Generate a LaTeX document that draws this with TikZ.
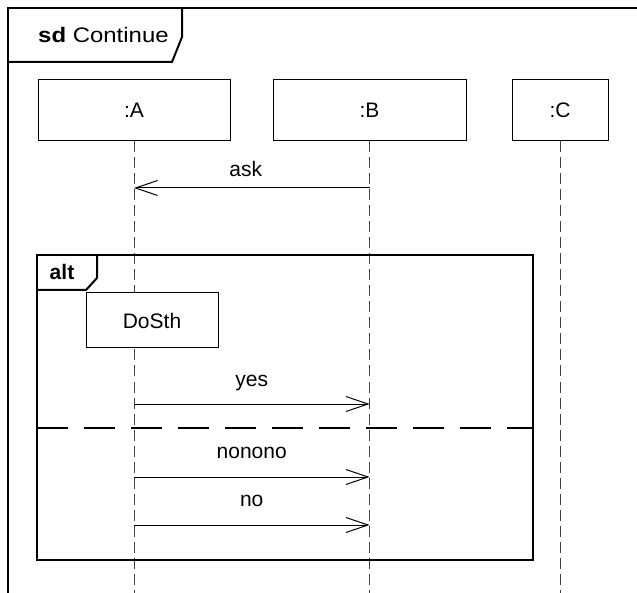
\documentclass[tikz,border=0pt]{standalone}
\usepackage{fontspec}
\setmainfont{Liberation Sans}
\usetikzlibrary{arrows.meta, positioning}

\begin{document}
\begin{tikzpicture}[
    x=1pt, y=-1pt,
    font=\fontsize{21}{25}\selectfont,
    lifebox/.style  = {rectangle, draw, line width=1pt, fill=white,
                       minimum height=61pt, inner sep=0pt},
    actbox/.style   = {rectangle, draw, line width=1pt, fill=white,
                       minimum width=132pt, minimum height=55pt, inner sep=0pt},
    lifeline/.style = {line width=1pt, black!75, dash pattern=on 11pt off 5pt},
    frame/.style    = {line width=2pt, line join=miter},
    msg/.style      = {line width=1pt,
                       -{Straight Barb[length=22pt, width=15pt, line width=1pt]}},
    msglabel/.style = {anchor=base, inner sep=0pt},
]
\useasboundingbox (0,0) rectangle (637,593);

% frames
\draw[frame] (637,8) -- (8,8) -- (8,593);
\draw[frame] (8,62) -- (172,62) -- (182,37) -- (182,8);
\node[anchor=base west, inner sep=0pt, xscale=1.14, transform shape] (title)
    at (38,43) {\textbf{sd} Continue};

\coordinate (bottom) at (0,593);

\node[lifebox, minimum width=192pt] (a) at (134,110.5) {:A};
\node[lifebox, minimum width=193pt] (b) at (369.5,110.5) {:B};
\node[lifebox, minimum width=96pt]  (c) at (560,110.5) {:C};

\draw[lifeline] (a.south) -- (a.south |- bottom);
\draw[lifeline] (b.south) -- (b.south |- bottom);
\draw[lifeline] (c.south) -- (c.south |- bottom);

\coordinate (ask) at (0,188);
\draw[msg] (b.south |- ask) -- (a.south |- ask)
    node[msglabel, midway, xshift=-6pt, yshift=11pt] {ask};

% alt fragment
\draw[frame] (37,255) rectangle (533,560);
\draw[frame] (37,290) -- (86,290) -- (97,278) -- (97,255);
\node[anchor=base, inner sep=0pt] (alt) at (62,280) {\textbf{alt}};
\draw[frame, dash pattern=on 31pt off 16pt] (37,428) -- (533,428);

\node[actbox] (dosth) at (152,320.5) {DoSth};

\coordinate (yes) at (0,404);
\coordinate (nonono) at (0,477);
\coordinate (no) at (0,525);
\draw[msg] (a.south |- yes) -- (b.south |- yes)
    node[msglabel, midway, yshift=17pt] {yes};
\draw[msg] (a.south |- nonono) -- (b.south |- nonono)
    node[msglabel, midway, yshift=18.5pt] {nonono};
\draw[msg] (a.south |- no) -- (b.south |- no)
    node[msglabel, midway, yshift=18.5pt] {no};
\end{tikzpicture}
\end{document}
